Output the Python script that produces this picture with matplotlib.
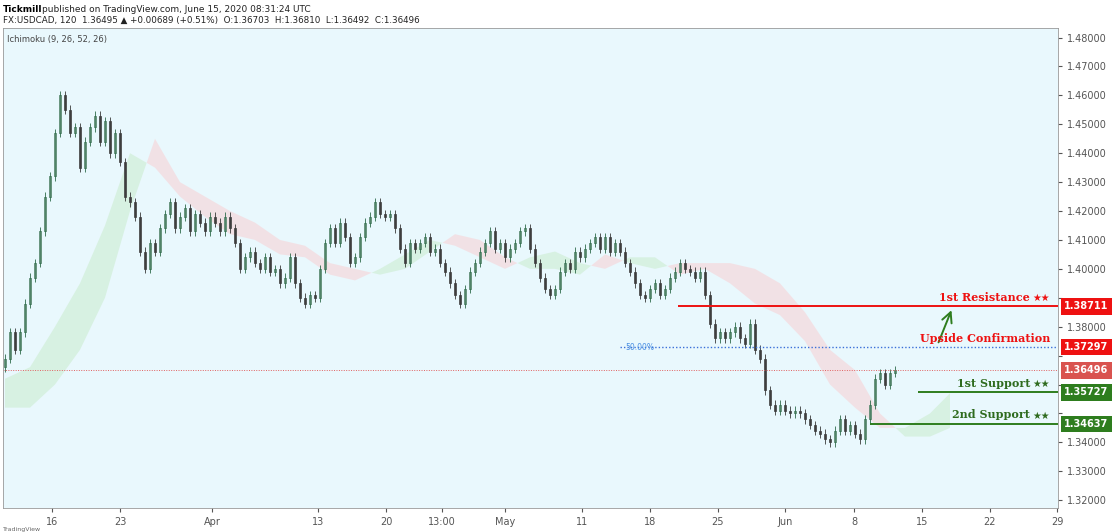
import numpy as np
import matplotlib
matplotlib.use("Agg")
import matplotlib.pyplot as plt

# ── 数据 (2 小时 K 线, 按约 5px 采样的收盘价) ──
closes = [1.369, 1.378, 1.372, 1.378, 1.388, 1.397, 1.402, 1.413, 1.425, 1.432, 1.447, 1.460,
          1.455, 1.447, 1.449, 1.435, 1.444, 1.449, 1.453, 1.444, 1.451, 1.440, 1.447, 1.437,
          1.425, 1.423, 1.418, 1.406, 1.400, 1.409, 1.406, 1.414, 1.419, 1.423, 1.414, 1.418,
          1.421, 1.413, 1.419, 1.416, 1.413, 1.418, 1.416, 1.413, 1.418, 1.414, 1.409, 1.400,
          1.404, 1.406, 1.402, 1.400, 1.404, 1.399, 1.400, 1.395, 1.397, 1.404, 1.395, 1.390,
          1.388, 1.391, 1.390, 1.400, 1.409, 1.414, 1.409, 1.416, 1.411, 1.402, 1.404, 1.411,
          1.416, 1.418, 1.423, 1.419, 1.418, 1.419, 1.414, 1.407, 1.402, 1.409, 1.407, 1.409,
          1.411, 1.406, 1.407, 1.402, 1.399, 1.395, 1.391, 1.388, 1.393, 1.399, 1.402, 1.406,
          1.409, 1.413, 1.407, 1.409, 1.404, 1.407, 1.409, 1.413, 1.414, 1.407, 1.402, 1.397,
          1.393, 1.391, 1.393, 1.399, 1.402, 1.400, 1.406, 1.404, 1.407, 1.409, 1.411, 1.407,
          1.411, 1.406, 1.409, 1.406, 1.402, 1.399, 1.395, 1.391, 1.390, 1.393, 1.395, 1.391,
          1.393, 1.397, 1.399, 1.402, 1.400, 1.399, 1.397, 1.399, 1.391, 1.381, 1.376, 1.378,
          1.376, 1.378, 1.380, 1.376, 1.374, 1.381, 1.372, 1.369, 1.358, 1.353, 1.351, 1.353,
          1.351, 1.350, 1.351, 1.350, 1.348, 1.346, 1.344, 1.343, 1.341, 1.340, 1.344, 1.348,
          1.344, 1.346, 1.343, 1.341, 1.348, 1.353, 1.362, 1.364, 1.360, 1.364, 1.365]
first_open = 1.366

# Ichimoku 云 (Senkou A / B)
cloud_x = [0, 5, 10, 15, 20, 25, 30, 35, 40, 45, 50, 55, 60, 65, 70, 75, 80, 85, 90, 95,
           100, 105, 110, 115, 120, 125, 130, 135, 140, 145, 150, 155, 160, 165, 170, 175,
           180, 185, 189]
span_a = [1.362, 1.366, 1.380, 1.395, 1.415, 1.440, 1.435, 1.425, 1.418, 1.412, 1.410, 1.405,
          1.404, 1.398, 1.396, 1.400, 1.405, 1.410, 1.408, 1.404, 1.400, 1.404, 1.406, 1.402,
          1.400, 1.404, 1.404, 1.398, 1.400, 1.395, 1.388, 1.384, 1.375, 1.360, 1.352, 1.345,
          1.345, 1.350, 1.357]
span_b = [1.352, 1.352, 1.360, 1.372, 1.390, 1.420, 1.445, 1.430, 1.425, 1.420, 1.416, 1.410,
          1.408, 1.402, 1.400, 1.398, 1.400, 1.406, 1.412, 1.410, 1.404, 1.400, 1.400, 1.398,
          1.405, 1.402, 1.400, 1.402, 1.402, 1.402, 1.400, 1.395, 1.385, 1.372, 1.365, 1.350,
          1.342, 1.342, 1.345]

tick_pos = [9.4, 23, 41.4, 62.6, 76.2, 87.4, 100, 115.4, 129, 142.6, 156, 169.8, 183.4, 197, 210.4]
tick_labels = ["16", "23", "Apr", "13", "20", "13:00", "May", "11", "18", "25", "Jun", "8", "15", "22", "29"]
y_ticks = [1.32, 1.33, 1.34, 1.35, 1.36, 1.37, 1.38, 1.39, 1.40, 1.41, 1.42,
           1.43, 1.44, 1.45, 1.46, 1.47, 1.48]

resistance = 1.38711
confirmation = 1.37297
last_price = 1.36496
support1 = 1.35727
support2 = 1.34637

# ── 绘图 ──
fig = plt.figure(figsize=(11.13, 5.32), dpi=100)
ax = fig.add_axes([3 / 1113, 1 - 508 / 532, 1055 / 1113, 480 / 532])
ax.set_facecolor("#e9f8fd")

# 云
cx = np.array(cloud_x, float)
a = np.array(span_a)
b = np.array(span_b)
ax.fill_between(cx, a, b, where=a >= b, interpolate=True, color="#d2efd9", alpha=0.75, lw=0)
ax.fill_between(cx, a, b, where=a < b, interpolate=True, color="#f5dade", alpha=0.75, lw=0)

# K 线
opens = [first_open] + closes[:-1]
for i, (o, c) in enumerate(zip(opens, closes)):
    hi = max(o, c) + 0.0015
    lo = min(o, c) - 0.0015
    up = c >= o
    col = "#2e6b4a" if up else "#3a3a3a"
    ax.vlines(i, lo, hi, color=col, lw=0.6)
    ax.bar(i, max(abs(c - o), 0.0004), bottom=min(o, c), width=0.45,
           color="white" if up else "#555555", edgecolor=col, lw=0.5)

# 水平位
ax.hlines(resistance, 134.6, 210.6, color="#ee1111", lw=1.4)
ax.hlines(confirmation, 123, 210.6, color="#3a6fd8", lw=1, linestyles=(0, (1, 1.5)))
ax.text(124, confirmation, "50.00%", color="#4a90e2", fontsize=5.5, va="center", ha="left")
ax.axhline(last_price, color="#e06060", lw=0.7, ls=(0, (1, 1.5)))
ax.hlines(support1, 182.6, 210.6, color="#2e7d1e", lw=1.4)
ax.hlines(support2, 173, 210.6, color="#2e7d1e", lw=1.4)
ax.annotate("", xy=(189.5, 1.3866), xytext=(186.5, 1.3737),
            arrowprops=dict(arrowstyle="->", color="#2e7d1e", lw=1.4, mutation_scale=18))

for val, txt, col in [(resistance, "1st Resistance", "#ee1111"),
                      (confirmation, "Upside Confirmation", "#ee1111"),
                      (support1, "1st Support", "#2e6b1e"),
                      (support2, "2nd Support", "#2e6b1e")]:
    if txt.startswith("Upside"):
        ax.text(209, val + 0.0012, txt, color=col, fontsize=8, fontweight="bold",
                ha="right", va="bottom", family="DejaVu Serif")
    else:
        ax.text(209, val + 0.0012, "★★", color=col, fontsize=7, ha="right", va="bottom",
                family="DejaVu Sans")
        ax.text(205.0, val + 0.0012, txt, color=col, fontsize=8, fontweight="bold",
                ha="right", va="bottom", family="DejaVu Serif")

ax.set_xlim(-0.4, 210.6)
ax.set_ylim(1.3173, 1.4833)
ax.set_xticks(tick_pos)
ax.set_xticklabels(tick_labels)
ax.yaxis.tick_right()
ax.set_yticks(y_ticks)
boxed = [resistance, confirmation, last_price, support1, support2]
ax.set_yticklabels(["" if min(abs(v - q) for q in boxed) < 0.0045 else f"{v:.5f}" for v in y_ticks])
ax.tick_params(labelsize=7, colors="#555555", length=3)
for s in ax.spines.values():
    s.set_color("#999999")
    s.set_linewidth(0.6)

# 右侧价格标签
for val, col in [(resistance, "#ee1111"), (confirmation, "#ee1111"), (last_price, "#d9534f"),
                 (support1, "#2e7d1e"), (support2, "#2e7d1e")]:
    ax.text(1.006, val, f"{val:.5f}", transform=ax.get_yaxis_transform(), color="white",
            fontsize=7, fontweight="bold", va="center", ha="left",
            bbox=dict(boxstyle="square,pad=0.35", fc=col, ec="none"))

ax.text(0.004, 0.985, "Ichimoku (9, 26, 52, 26)", transform=ax.transAxes, fontsize=6,
        color="#444444", va="top")

fig.text(3 / 1113, 1 - 9 / 532, "Tickmill", fontsize=6.5, fontweight="bold", va="center")
fig.text(42 / 1113, 1 - 9 / 532, "published on TradingView.com, June 15, 2020 08:31:24 UTC",
         fontsize=6.5, va="center", color="#222222")
fig.text(3 / 1113, 1 - 20 / 532, "FX:USDCAD, 120  1.36495 ▲ +0.00689 (+0.51%)  O:1.36703  H:1.36810  L:1.36492  C:1.36496",
         fontsize=6.3, va="center", color="#222222")
fig.text(3 / 1113, 1 - 529 / 532, "TradingView", fontsize=4.5, va="center", color="#666666")

fig.savefig("out.png", dpi=100)
